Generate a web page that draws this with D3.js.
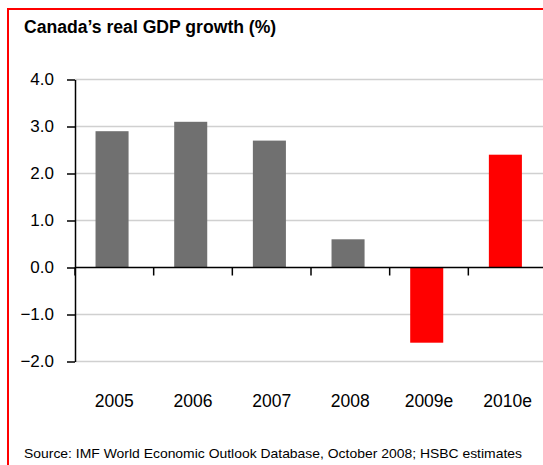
<!DOCTYPE html>
<html>
<head>
<meta charset="utf-8">
<script src="https://d3js.org/d3.v7.min.js"></script>
<style>
  body { margin: 0; background: #fff; }
  text { font-family: "Liberation Sans", Arial, sans-serif; }
</style>
</head>
<body>
<div id="chart"></div>
<script>
var years = ["2005", "2006", "2007", "2008", "2009e", "2010e"];
var growth = [2.9, 3.1, 2.7, 0.6, -1.6, 2.4];
var barColors = ["#707070", "#707070", "#707070", "#707070", "#ff0000", "#ff0000"];
var yTicks = [-2, -1, 0, 1, 2, 3, 4];

var width = 543, height = 465;
var svg = d3.select("#chart").append("svg")
    .attr("width", width)
    .attr("height", height);

// red frame (top + left)
svg.append("line").attr("x1", 8).attr("x2", width).attr("y1", 9).attr("y2", 9)
    .attr("stroke", "#ff0000").attr("stroke-width", 2);
svg.append("line").attr("x1", 8).attr("x2", 8).attr("y1", 8).attr("y2", height)
    .attr("stroke", "#ff0000").attr("stroke-width", 2);

svg.append("text")
    .attr("x", 24).attr("y", 33)
    .attr("font-size", "17.6px").attr("font-weight", "bold")
    .text("Canada\u2019s real GDP growth (%)");

var x0 = 75, x1 = 547;
var x = d3.scaleBand()
    .domain(years)
    .range([x0, x1])
    .paddingInner(0.58)
    .paddingOuter(0.29)
    .align(0.45);

var y = d3.scaleLinear()
    .domain([-2, 4])
    .range([361.5, 79.5]);

// gridlines
svg.append("g").selectAll("line")
    .data(yTicks.filter(function(d) { return d != 0; }))
    .enter().append("line")
    .attr("x1", x0).attr("x2", width)
    .attr("y1", function(d) { return y(d); })
    .attr("y2", function(d) { return y(d); })
    .attr("stroke", "#d0d0d0").attr("stroke-width", 1.5);

// bars
svg.append("g").selectAll("rect")
    .data(growth)
    .enter().append("rect")
    .attr("x", function(d, i) { return x(years[i]); })
    .attr("width", x.bandwidth())
    .attr("y", function(d) { return y(Math.max(0, d)); })
    .attr("height", function(d) { return Math.abs(y(d) - y(0)); })
    .attr("fill", function(d, i) { return barColors[i]; });

// y axis
var yAxis = svg.append("g")
    .attr("transform", "translate(" + x0 + ",0)")
    .call(d3.axisLeft(y).tickValues(yTicks).tickFormat(d3.format(".1f")).tickSize(8).tickSizeOuter(0));
yAxis.select(".domain").attr("stroke", "#000").attr("stroke-width", 1.5);
yAxis.selectAll(".tick line").attr("stroke", "#000").attr("stroke-width", 1.5);
yAxis.selectAll(".tick text")
    .attr("x", -21)
    .attr("font-size", "17px")
    .attr("font-family", "Liberation Sans, Arial, sans-serif")
    .attr("fill", "#000");

// zero line + category ticks
var step = x.step();
svg.append("line")
    .attr("x1", x0).attr("x2", width)
    .attr("y1", y(0)).attr("y2", y(0))
    .attr("stroke", "#000").attr("stroke-width", 1.5);
svg.append("g").selectAll("line")
    .data(d3.range(years.length))
    .enter().append("line")
    .attr("x1", function(i) { return x0 + i * step; })
    .attr("x2", function(i) { return x0 + i * step; })
    .attr("y1", y(0)).attr("y2", y(0) + 8)
    .attr("stroke", "#000").attr("stroke-width", 1.5);

// category labels
svg.append("g").selectAll("text")
    .data(years)
    .enter().append("text")
    .attr("x", function(d, i) { return x0 + (i + 0.5) * step; })
    .attr("y", 407)
    .attr("text-anchor", "middle")
    .attr("font-size", "17.5px")
    .text(function(d) { return d; });

svg.append("text")
    .attr("x", 24).attr("y", 458)
    .attr("font-size", "13px")
    .attr("textLength", 498)
    .attr("lengthAdjust", "spacingAndGlyphs")
    .text("Source: IMF World Economic Outlook Database, October 2008; HSBC estimates");
</script>
</body>
</html>
